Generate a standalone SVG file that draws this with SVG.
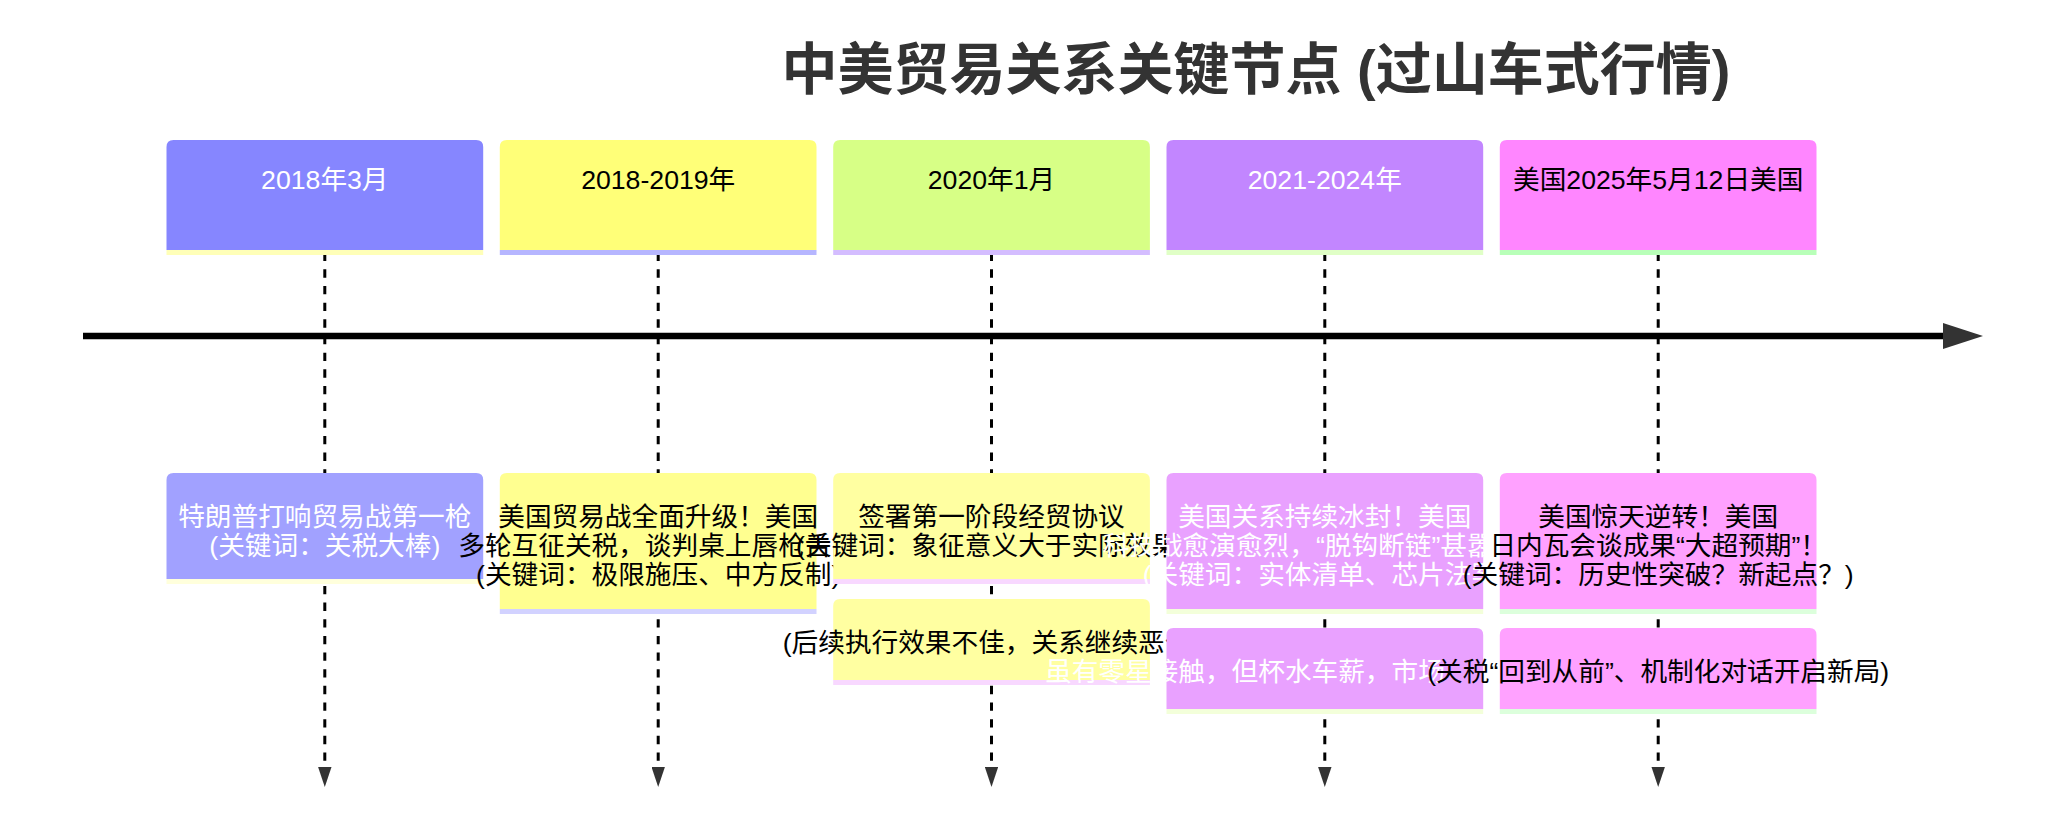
<svg xmlns="http://www.w3.org/2000/svg" width="2060" height="834" viewBox="0 0 2060 834">
<defs>
<style>
text { font-family: "Liberation Sans", "Noto Sans CJK SC", sans-serif; font-size: 26.67px; text-anchor: middle; }
.title { font-size: 56px; font-weight: bold; fill: #333333; }
.w { fill: #ffffff; }
.k { fill: #000000; }
.vline { stroke: #000000; stroke-width: 3; stroke-dasharray: 8.33 8.33; fill: none; }
.axis { stroke: #000000; stroke-width: 6.67; fill: none; }
.h0 { fill: #8686ff; } .h1 { fill: #ffff78; } .h2 { fill: #d7ff86; } .h3 { fill: #c286ff; } .h4 { fill: #ff86ff; }
.e0 { fill: #a1a1ff; } .e1 { fill: #ffff90; } .e2 { fill: #ffffa1; } .e3 { fill: #e9a1ff; } .e4 { fill: #ffa1ff; }
.hs0 { fill: #ffffb8; } .hs1 { fill: #b6b6ff; } .hs2 { fill: #d4bdff; } .hs3 { fill: #e0ffc6; } .hs4 { fill: #b8ffb8; }
.es0 { fill: #ffffdc; } .es1 { fill: #d2d2ff; } .es2 { fill: #f8d8ff; } .es3 { fill: #f3ffda; } .es4 { fill: #dcffdc; }
</style>
<marker id="arrV" viewBox="0 0 20 13.4" refX="0" refY="6.7" markerWidth="20" markerHeight="13.4" markerUnits="userSpaceOnUse" orient="auto">
<path d="M0,0 L20,6.7 L0,13.4 Z" fill="#333333"/>
</marker>
<marker id="arrH" viewBox="0 0 40 26" refX="0" refY="13" markerWidth="40" markerHeight="26" markerUnits="userSpaceOnUse" orient="auto">
<path d="M0,0 L40,13 L0,26 Z" fill="#333333"/>
</marker>
</defs>
<rect x="0" y="0" width="2060" height="834" fill="#ffffff"/>
<text class="title" x="1256" y="89">中美贸易关系关键节点 (过山车式行情)</text>

<g id="connectors">
<line class="axis" x1="83" y1="336" x2="1943" y2="336" marker-end="url(#arrH)"/>
<line class="vline" x1="324.8" y1="252.7" x2="324.8" y2="767" marker-end="url(#arrV)"/>
<line class="vline" x1="658.2" y1="252.7" x2="658.2" y2="767" marker-end="url(#arrV)"/>
<line class="vline" x1="991.5" y1="252.7" x2="991.5" y2="767" marker-end="url(#arrV)"/>
<line class="vline" x1="1324.8" y1="252.7" x2="1324.8" y2="767" marker-end="url(#arrV)"/>
<line class="vline" x1="1658.2" y1="252.7" x2="1658.2" y2="767" marker-end="url(#arrV)"/>
</g>

<g id="period-2018-03">
<path class="h0" d="M166.5,250 V147 Q166.5,140 173.5,140 H476.2 Q483.2,140 483.2,147 V250 Z"/>
<rect class="hs0" x="166.5" y="250" width="316.7" height="5"/>
<text class="w" x="324.8" y="188.5">2018年3月</text>
</g>
<g id="event-2018-03">
<path class="e0" d="M166.5,579 V480 Q166.5,473 173.5,473 H476.2 Q483.2,473 483.2,480 V579 Z"/>
<rect class="es0" x="166.5" y="579" width="316.7" height="5"/>
<text class="w" x="324.8" y="525.5">特朗普打响贸易战第一枪</text>
<text class="w" x="324.8" y="554.8">(关键词：关税大棒)</text>
</g>

<g id="period-2018-2019">
<path class="h1" d="M499.8,250 V147 Q499.8,140 506.8,140 H809.5 Q816.5,140 816.5,147 V250 Z"/>
<rect class="hs1" x="499.8" y="250" width="316.7" height="5"/>
<text class="k" x="658.2" y="188.5">2018-2019年</text>
</g>
<g id="event-2018-2019">
<path class="e1" d="M499.8,609 V480 Q499.8,473 506.8,473 H809.5 Q816.5,473 816.5,480 V609 Z"/>
<rect class="es1" x="499.8" y="609" width="316.7" height="5"/>
<text class="k" x="658.2" y="525.5">美国贸易战全面升级！美国</text>
<text class="k" x="658.2" y="554.8">多轮互征关税，谈判桌上唇枪舌战</text>
<text class="k" x="658.2" y="584.1">(关键词：极限施压、中方反制)</text>
</g>

<g id="period-2020-01">
<path class="h2" d="M833.2,250 V147 Q833.2,140 840.2,140 H1142.9 Q1149.9,140 1149.9,147 V250 Z"/>
<rect class="hs2" x="833.2" y="250" width="316.7" height="5"/>
<text class="k" x="991.5" y="188.5">2020年1月</text>
</g>
<g id="event-2020-01-a">
<path class="e2" d="M833.2,579 V480 Q833.2,473 840.2,473 H1142.9 Q1149.9,473 1149.9,480 V579 Z"/>
<rect class="es2" x="833.2" y="579" width="316.7" height="5"/>
<text class="k" x="991.5" y="525.5">签署第一阶段经贸协议</text>
<text class="k" x="991.5" y="554.8">(关键词：象征意义大于实际效果)</text>
</g>
<g id="event-2020-01-b">
<path class="e2" d="M833.2,680 V606 Q833.2,599 840.2,599 H1142.9 Q1149.9,599 1149.9,606 V680 Z"/>
<rect class="es2" x="833.2" y="680" width="316.7" height="5"/>
<text class="k" x="991.5" y="651.5">(后续执行效果不佳，关系继续恶化)</text>
</g>

<g id="period-2021-2024">
<path class="h3" d="M1166.5,250 V147 Q1166.5,140 1173.5,140 H1476.2 Q1483.2,140 1483.2,147 V250 Z"/>
<rect class="hs3" x="1166.5" y="250" width="316.7" height="5"/>
<text class="w" x="1324.8" y="188.5">2021-2024年</text>
</g>
<g id="event-2021-2024-a">
<path class="e3" d="M1166.5,609 V480 Q1166.5,473 1173.5,473 H1476.2 Q1483.2,473 1483.2,480 V609 Z"/>
<rect class="es3" x="1166.5" y="609" width="316.7" height="5"/>
<text class="w" x="1324.8" y="525.5">美国关系持续冰封！美国</text>
<text class="w" x="1324.8" y="554.8">科技战愈演愈烈，“脱钩断链”甚嚣尘上</text>
<text class="w" x="1324.8" y="584.1">(关键词：实体清单、芯片法案)</text>
</g>
<g id="event-2021-2024-b">
<path class="e3" d="M1166.5,709 V635 Q1166.5,628 1173.5,628 H1476.2 Q1483.2,628 1483.2,635 V709 Z"/>
<rect class="es3" x="1166.5" y="709" width="316.7" height="5"/>
<text class="w" x="1045" y="680.5" style="text-anchor:start">虽有零星接触，但杯水车薪，市场</text>
</g>

<g id="period-2025-05-12">
<path class="h4" d="M1499.8,250 V147 Q1499.8,140 1506.8,140 H1809.5 Q1816.5,140 1816.5,147 V250 Z"/>
<rect class="hs4" x="1499.8" y="250" width="316.7" height="5"/>
<text class="k" x="1658.2" y="188.5">美国2025年5月12日美国</text>
</g>
<g id="event-2025-05-12-a">
<path class="e4" d="M1499.8,609 V480 Q1499.8,473 1506.8,473 H1809.5 Q1816.5,473 1816.5,480 V609 Z"/>
<rect class="es4" x="1499.8" y="609" width="316.7" height="5"/>
<text class="k" x="1658.2" y="525.5">美国惊天逆转！美国</text>
<text class="k" x="1658.2" y="554.8">日内瓦会谈成果“大超预期”！</text>
<text class="k" x="1658.2" y="584.1">(关键词：历史性突破？新起点？)</text>
</g>
<g id="event-2025-05-12-b">
<path class="e4" d="M1499.8,709 V635 Q1499.8,628 1506.8,628 H1809.5 Q1816.5,628 1816.5,635 V709 Z"/>
<rect class="es4" x="1499.8" y="709" width="316.7" height="5"/>
<text class="k" x="1658.2" y="680.5">(关税“回到从前”、机制化对话开启新局)</text>
</g>
</svg>
